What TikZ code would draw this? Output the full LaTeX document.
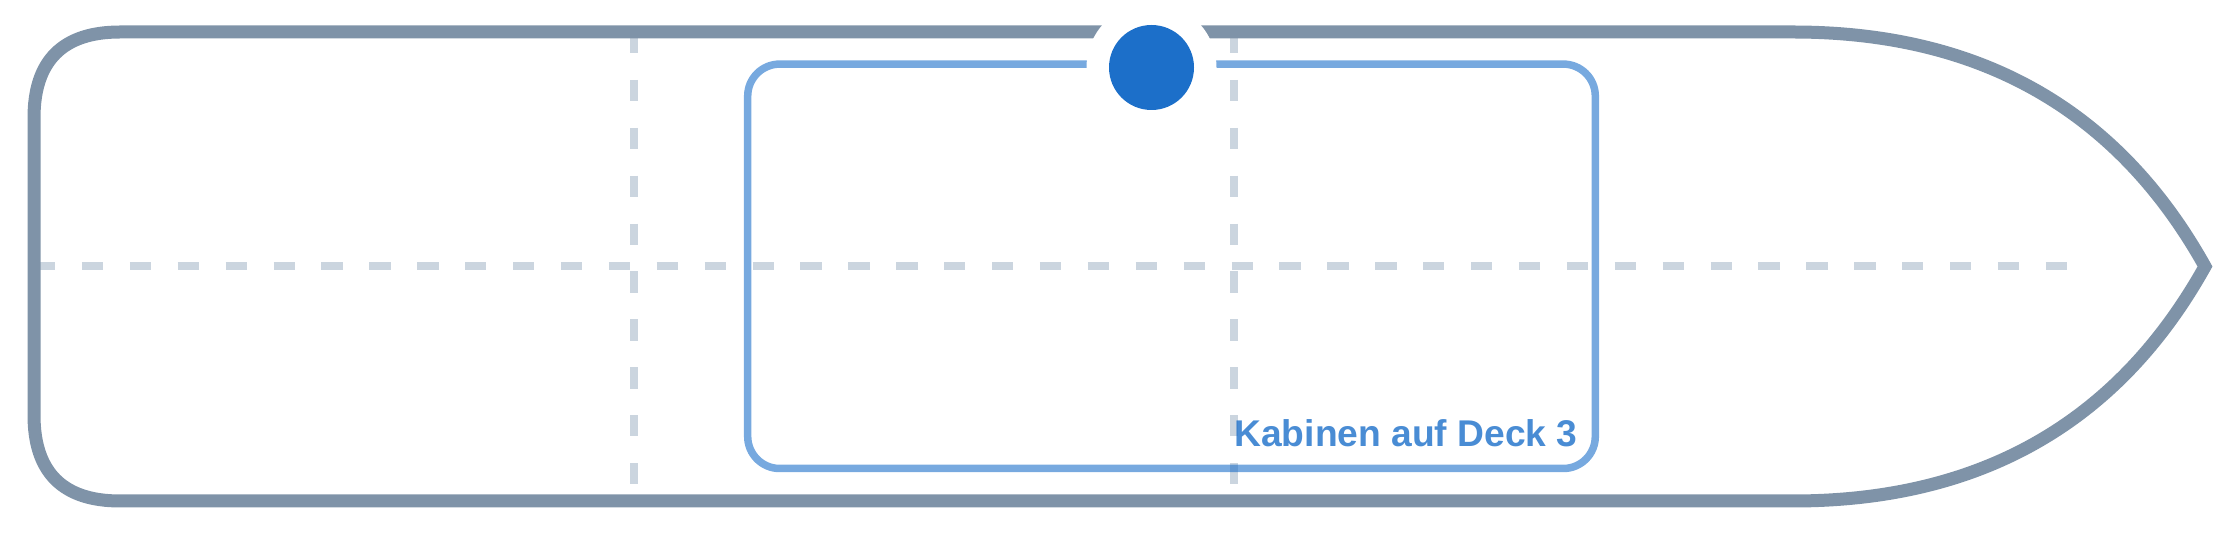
\documentclass[tikz,border=0pt]{standalone}
\usepackage{fontspec}
\newfontfamily\labelfont{Liberation Sans}
\definecolor{hullc}{HTML}{7F93A8}
\definecolor{gridc}{HTML}{CBD5DF}
\definecolor{accent}{HTML}{1C6FC9}
\tikzset{
  hull/.style={draw=hullc, line width=6.5pt, line join=miter},
  gridline/.style={draw=gridc, line width=4pt, dash pattern=on 10.65pt off 13.3pt},
  deckbox/.style={draw=accent, draw opacity=0.6, line width=3.75pt, rounded corners=16pt,
    rectangle, inner sep=0pt, minimum width=423.8pt, minimum height=202.2pt},
  halo/.style={circle, fill=white, inner sep=0pt, minimum size=65pt},
  pin/.style={circle, fill=accent, inner sep=0pt, minimum size=42.5pt},
  decklabel/.style={text=accent, text opacity=0.8, inner sep=0pt, anchor=base west,
    font=\labelfont\bfseries\fontsize{18.6pt}{22pt}\selectfont}
}
\begin{document}
\begin{tikzpicture}[x=0.5pt, y=-0.5pt]
\useasboundingbox (0,0) rectangle (2240,533);
% grid lines
\coordinate (hL) at (34,266.5);
\coordinate (hR) at (2070,266.5);
\coordinate (v1t) at (634,32);
\coordinate (v1b) at (634,501);
\coordinate (v2t) at (1234,32);
\coordinate (v2b) at (1234,501);
\draw[gridline] (hL) -- (hR);
\draw[gridline] (v1t) -- (v1b);
\draw[gridline] (v2t) -- (v2b);
% hull
\draw[hull] (120,32) -- (1793,32)
  .. controls (1980.3,32) and (2117.7,110) .. (2205,266.5)
  .. controls (2117.7,423) and (1980.3,501) .. (1793,501)
  -- (120,501)
  .. controls (62.7,501) and (34,472.3) .. (34,415)
  -- (34,118)
  .. controls (34,60.7) and (62.7,32) .. (120,32) -- cycle;
% deck box
\node[deckbox] (deck) at (1171.5,266.3) {};
% pin
\node[halo] (pinhalo) at (1151.5,67.5) {};
\node[pin] (pin) at (pinhalo.center) {};
% label
\node[decklabel] (label) at (1234,446.7) {Kabinen auf Deck 3};
\end{tikzpicture}
\end{document}
